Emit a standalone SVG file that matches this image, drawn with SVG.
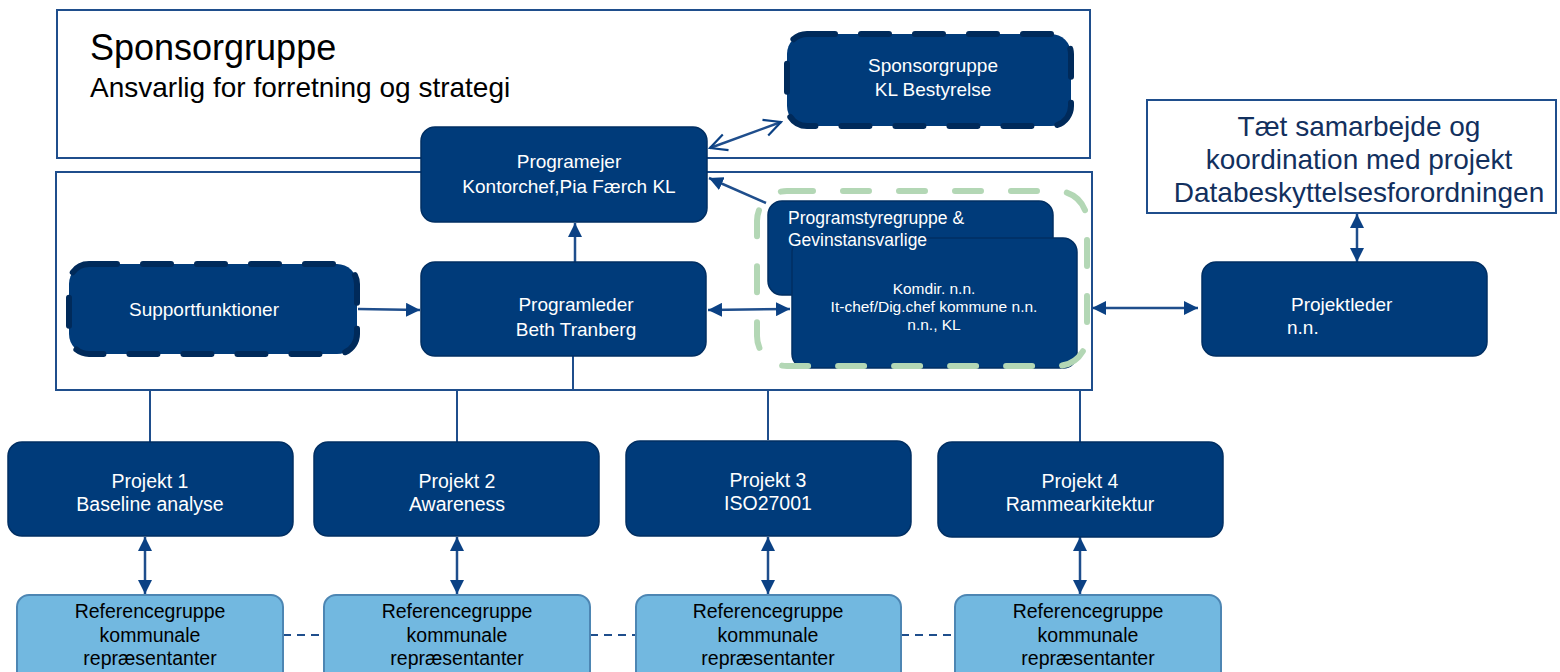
<svg xmlns="http://www.w3.org/2000/svg" width="1560" height="672" viewBox="0 0 1560 672">
<style>
  .frame { fill: #ffffff; stroke: #1f4e8c; stroke-width: 2; }
  .node { fill: #003b7a; stroke: #002f63; stroke-width: 1.5; }
  .dashnode { fill: #003b7a; stroke: #002a5a; stroke-width: 6; stroke-dasharray: 28 26; stroke-linecap: round; }
  .ref { fill: #72b8e0; stroke: #4d86b3; stroke-width: 2; }
  .wt { font-family: "Liberation Sans", Arial, sans-serif; fill: #ffffff; text-anchor: middle; }
  .bt { font-family: "Liberation Sans", Arial, sans-serif; fill: #000000; text-anchor: middle; font-size: 19.5px; }
  .ln { stroke: #1f4e8c; stroke-width: 2; fill: none; }
  .ar { stroke: #1f4e8c; stroke-width: 2.5; fill: none; }
</style>
<defs>
  <marker id="tri" viewBox="0 0 10 10" refX="10" refY="5" markerWidth="14" markerHeight="14" markerUnits="userSpaceOnUse" orient="auto-start-reverse">
    <path d="M0,0 L10,5 L0,10 Z" fill="#0b4184"/>
  </marker>
  <marker id="open" viewBox="0 0 12 12" refX="11" refY="6" markerWidth="20" markerHeight="20" markerUnits="userSpaceOnUse" orient="auto-start-reverse">
    <path d="M1,1 L11,6 L1,11" fill="none" stroke="#0b4184" stroke-width="1.3"/>
  </marker>
</defs>

<g id="sponsor-frame">
  <rect class="frame" x="57" y="10" width="1033" height="148"/>
  <text x="90" y="60" font-family="Liberation Sans, Arial, sans-serif" font-size="36" fill="#000">Sponsorgruppe</text>
  <text x="90" y="97" font-family="Liberation Sans, Arial, sans-serif" font-size="28" fill="#000">Ansvarlig for forretning og strategi</text>
</g>

<g id="program-frame">
  <rect class="frame" x="56" y="172" width="1036" height="218"/>
</g>

<g id="connectors">
  <line class="ar" x1="710" y1="148" x2="781" y2="122" marker-start="url(#open)" marker-end="url(#open)"/>
  <line class="ar" x1="766" y1="203" x2="709" y2="178" marker-end="url(#tri)"/>
  <line class="ar" x1="575" y1="262" x2="575" y2="223" marker-end="url(#tri)"/>
  <line class="ar" x1="358" y1="309" x2="420" y2="310" marker-end="url(#tri)"/>
  <line class="ar" x1="708" y1="310" x2="790" y2="309" marker-start="url(#tri)" marker-end="url(#tri)"/>
  <line class="ar" x1="1092" y1="308" x2="1198" y2="308" marker-start="url(#tri)" marker-end="url(#tri)"/>
  <line class="ar" x1="1357" y1="214" x2="1357" y2="262" marker-start="url(#tri)" marker-end="url(#tri)"/>
  <line class="ln" x1="573" y1="356" x2="573" y2="390"/>
  <line class="ln" x1="150" y1="390" x2="150" y2="442"/>
  <line class="ln" x1="457" y1="390" x2="457" y2="442"/>
  <line class="ln" x1="768" y1="390" x2="768" y2="440"/>
  <line class="ln" x1="1080" y1="390" x2="1080" y2="442"/>
  <line class="ar" x1="145" y1="537" x2="145" y2="594" marker-start="url(#tri)" marker-end="url(#tri)"/>
  <line class="ar" x1="457" y1="537" x2="457" y2="594" marker-start="url(#tri)" marker-end="url(#tri)"/>
  <line class="ar" x1="768" y1="537" x2="768" y2="594" marker-start="url(#tri)" marker-end="url(#tri)"/>
  <line class="ar" x1="1080" y1="537" x2="1080" y2="594" marker-start="url(#tri)" marker-end="url(#tri)"/>
  <line class="ln" x1="283" y1="635" x2="324" y2="635" stroke-dasharray="8 6"/>
  <line class="ln" x1="590" y1="635" x2="636" y2="635" stroke-dasharray="8 6"/>
  <line class="ln" x1="901" y1="635" x2="955" y2="635" stroke-dasharray="8 6"/>
</g>

<g id="sponsor-kl">
  <rect class="dashnode" x="787" y="34" width="284" height="92" rx="20"/>
  <text class="wt" x="933" y="72" font-size="19">Sponsorgruppe</text>
  <text class="wt" x="933" y="96" font-size="19">KL Bestyrelse</text>
</g>

<g id="programejer">
  <rect class="node" x="421" y="127" width="286" height="95" rx="14"/>
  <text class="wt" x="569" y="168" font-size="19">Programejer</text>
  <text class="wt" x="569" y="193" font-size="19">Kontorchef,Pia Færch KL</text>
</g>

<g id="supportfunktioner">
  <rect class="dashnode" x="69" y="264" width="288" height="90" rx="20"/>
  <text class="wt" x="204" y="316" font-size="19">Supportfunktioner</text>
</g>

<g id="programleder">
  <rect class="node" x="421" y="262" width="285" height="94" rx="14"/>
  <text class="wt" x="576" y="311" font-size="19">Programleder</text>
  <text class="wt" x="576" y="336" font-size="19">Beth Tranberg</text>
</g>

<g id="programstyregruppe">
  <rect class="node" x="768" y="201" width="285" height="94" rx="14"/>
</g>

<g id="komdir">
  <rect class="node" x="792" y="238" width="285" height="130" rx="14"/>
  <text class="wt" x="934" y="294" font-size="15.5">Komdir. n.n.</text>
  <text class="wt" x="934" y="312" font-size="15.5">It-chef/Dig.chef kommune n.n.</text>
  <text class="wt" x="934" y="330" font-size="15.5">n.n., KL</text>
</g>

<g id="programstyregruppe-label">
  <text x="788" y="224" font-family="Liberation Sans, Arial, sans-serif" font-size="17.5" fill="#ffffff">Programstyregruppe &amp;</text>
  <text x="788" y="246" font-family="Liberation Sans, Arial, sans-serif" font-size="17.5" fill="#ffffff">Gevinstansvarlige</text>
</g>

<g id="styregruppe-outline">
  <rect x="757" y="191" width="330" height="175" rx="30" fill="none" stroke="#b3d7b5" stroke-width="6" stroke-dasharray="26 30" stroke-linecap="round"/>
</g>

<g id="projektleder">
  <rect class="node" x="1202" y="262" width="285" height="94" rx="14"/>
  <text x="1291" y="311" font-family="Liberation Sans, Arial, sans-serif" font-size="19" fill="#ffffff">Projektleder</text>
  <text x="1287" y="334" font-family="Liberation Sans, Arial, sans-serif" font-size="19" fill="#ffffff">n.n.</text>
</g>

<g id="databeskyttelse">
  <rect x="1147" y="100" width="409" height="113" fill="#ffffff" stroke="#1f4e8c" stroke-width="2"/>
  <text x="1359" y="136" font-family="Liberation Sans, Arial, sans-serif" font-size="28" fill="#12305e" text-anchor="middle">Tæt samarbejde og</text>
  <text x="1359" y="169" font-family="Liberation Sans, Arial, sans-serif" font-size="28" fill="#12305e" text-anchor="middle">koordination med projekt</text>
  <text x="1359" y="202" font-family="Liberation Sans, Arial, sans-serif" font-size="28" fill="#12305e" text-anchor="middle">Databeskyttelsesforordningen</text>
</g>

<g id="projekt1">
  <rect class="node" x="8" y="442" width="285" height="94" rx="14"/>
  <text class="wt" x="150" y="488" font-size="19.5">Projekt 1</text>
  <text class="wt" x="150" y="511" font-size="19.5">Baseline analyse</text>
</g>
<g id="projekt2">
  <rect class="node" x="314" y="442" width="285" height="94" rx="14"/>
  <text class="wt" x="457" y="488" font-size="19.5">Projekt 2</text>
  <text class="wt" x="457" y="511" font-size="19.5">Awareness</text>
</g>
<g id="projekt3">
  <rect class="node" x="626" y="441" width="285" height="95" rx="14"/>
  <text class="wt" x="768" y="487" font-size="19.5">Projekt 3</text>
  <text class="wt" x="768" y="510" font-size="19.5">ISO27001</text>
</g>
<g id="projekt4">
  <rect class="node" x="938" y="442" width="285" height="95" rx="14"/>
  <text class="wt" x="1080" y="488" font-size="19.5">Projekt 4</text>
  <text class="wt" x="1080" y="511" font-size="19.5">Rammearkitektur</text>
</g>

<g id="ref1">
  <rect class="ref" x="17" y="595" width="266" height="90" rx="12"/>
  <text class="bt" x="150" y="618">Referencegruppe</text>
  <text class="bt" x="150" y="642">kommunale</text>
  <text class="bt" x="150" y="665">repræsentanter</text>
</g>
<g id="ref2">
  <rect class="ref" x="324" y="595" width="266" height="90" rx="12"/>
  <text class="bt" x="457" y="618">Referencegruppe</text>
  <text class="bt" x="457" y="642">kommunale</text>
  <text class="bt" x="457" y="665">repræsentanter</text>
</g>
<g id="ref3">
  <rect class="ref" x="636" y="595" width="265" height="90" rx="12"/>
  <text class="bt" x="768" y="618">Referencegruppe</text>
  <text class="bt" x="768" y="642">kommunale</text>
  <text class="bt" x="768" y="665">repræsentanter</text>
</g>
<g id="ref4">
  <rect class="ref" x="955" y="595" width="266" height="90" rx="12"/>
  <text class="bt" x="1088" y="618">Referencegruppe</text>
  <text class="bt" x="1088" y="642">kommunale</text>
  <text class="bt" x="1088" y="665">repræsentanter</text>
</g>
</svg>
